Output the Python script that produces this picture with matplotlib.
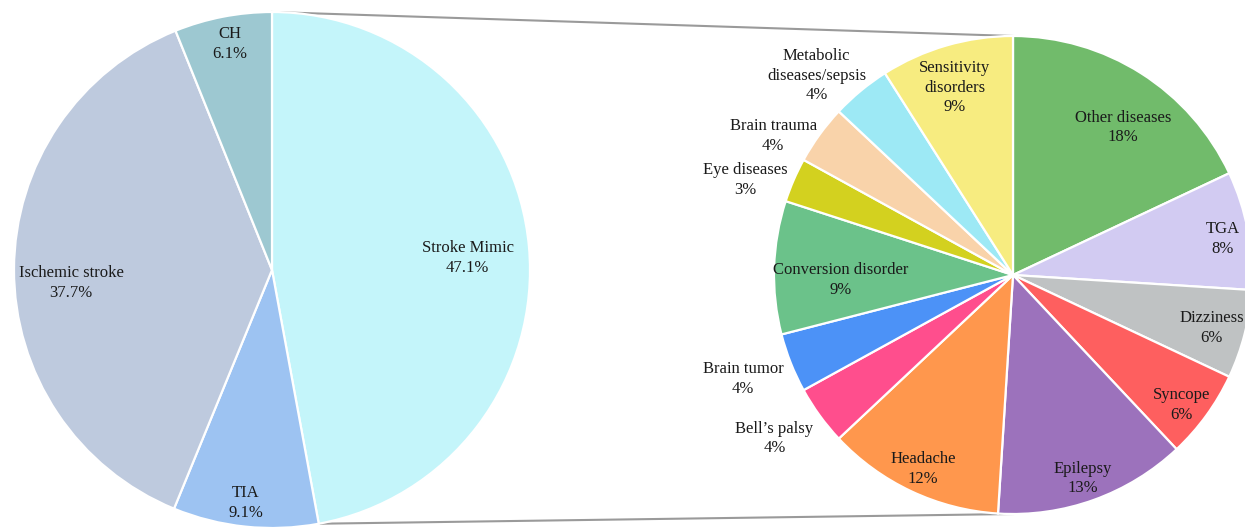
import numpy as np
import matplotlib
matplotlib.use("Agg")
import matplotlib.pyplot as plt

# ---------------- data ----------------
main_labels = ["Stroke Mimic", "TIA", "Ischemic stroke", "CH"]
main_values = [47.1, 9.1, 37.7, 6.1]
main_colors = ["#C4F5FA", "#9DC3F2", "#BECADE", "#9DC8D1"]

sub_labels = ["Other diseases", "TGA", "Dizziness", "Syncope", "Epilepsy",
              "Headache", "Bell\u2019s palsy", "Brain tumor", "Conversion disorder",
              "Eye diseases", "Brain trauma", "Metabolic\ndiseases/sepsis",
              "Sensitivity\ndisorders"]
sub_values = [18, 8, 6, 6, 13, 12, 4, 4, 9, 3, 4, 4, 9]
sub_colors = ["#71BB6B", "#D2CBF2", "#BFC2C3", "#FE5F5F", "#9C72BC",
              "#FF974D", "#FF4E8D", "#4C92F7", "#6BC28A", "#D3D11F",
              "#F9D3AA", "#9DE9F5", "#F7EC80"]

# label placement (radial factor, angle nudge in degrees)
main_lab_r = [0.76, 0.91, 0.78, 0.89]
main_lab_da = [-1.7, -0.5, 3.9, -0.4]
sub_lab_r = [0.77, 0.89, 0.86, 0.89, 0.90, 0.895, 1.21, 1.21, 0.72, 1.19, 1.16, 1.17, 0.82]
sub_lab_da = [-4.4, -1.0, -0.5, -1.6, -1.0, 0.3, -1.6, -0.5, 3.5, 3.9, 5.9, 5.0, 1.1]

W, H = 1245, 530
fig = plt.figure(figsize=(W / 100, H / 100), dpi=100)
ax = fig.add_axes([0, 0, 1, 1])

c1, r1 = (272, H - 270), 258
c2, r2 = (1013, H - 275), 239

wp = dict(edgecolor="white", linewidth=1.6)
w1, _ = ax.pie(main_values, colors=main_colors, startangle=90, counterclock=False,
               center=c1, radius=r1, wedgeprops=wp)
w2, _ = ax.pie(sub_values, colors=sub_colors, startangle=90, counterclock=False,
               center=c2, radius=r2, wedgeprops=wp)

font = dict(family="Liberation Serif", size=12, color="#1a1a1a",
            ha="center", va="center", multialignment="center", linespacing=1.3)


def fmt(v):
    return f"{v:.1f}%" if isinstance(v, float) else f"{v}%"


for w, lab, v, rf, da in zip(w1, main_labels, main_values, main_lab_r, main_lab_da):
    mid = np.deg2rad((w.theta1 + w.theta2) / 2 + da)
    ax.text(c1[0] + rf * r1 * np.cos(mid), c1[1] + rf * r1 * np.sin(mid),
            f"{lab}\n{fmt(v)}", **font)

for w, lab, v, rf, da in zip(w2, sub_labels, sub_values, sub_lab_r, sub_lab_da):
    mid = np.deg2rad((w.theta1 + w.theta2) / 2 + da)
    ax.text(c2[0] + rf * r2 * np.cos(mid), c2[1] + rf * r2 * np.sin(mid),
            f"{lab}\n{fmt(v)}", **font)

# connection lines from Stroke Mimic wedge to the sub pie
sm = w1[0]
for ang1, ang2 in [(sm.theta2, 90), (sm.theta1, 270)]:
    a1, a2 = np.deg2rad(ang1), np.deg2rad(ang2)
    ax.plot([c1[0] + r1 * np.cos(a1), c2[0] + r2 * np.cos(a2)],
            [c1[1] + r1 * np.sin(a1), c2[1] + r2 * np.sin(a2)],
            color="#9a9a9a", lw=1.5, zorder=0)

ax.set_xlim(0, W)
ax.set_ylim(0, H)
ax.set_aspect("auto")
ax.axis("off")
fig.savefig("out.png", dpi=100)
